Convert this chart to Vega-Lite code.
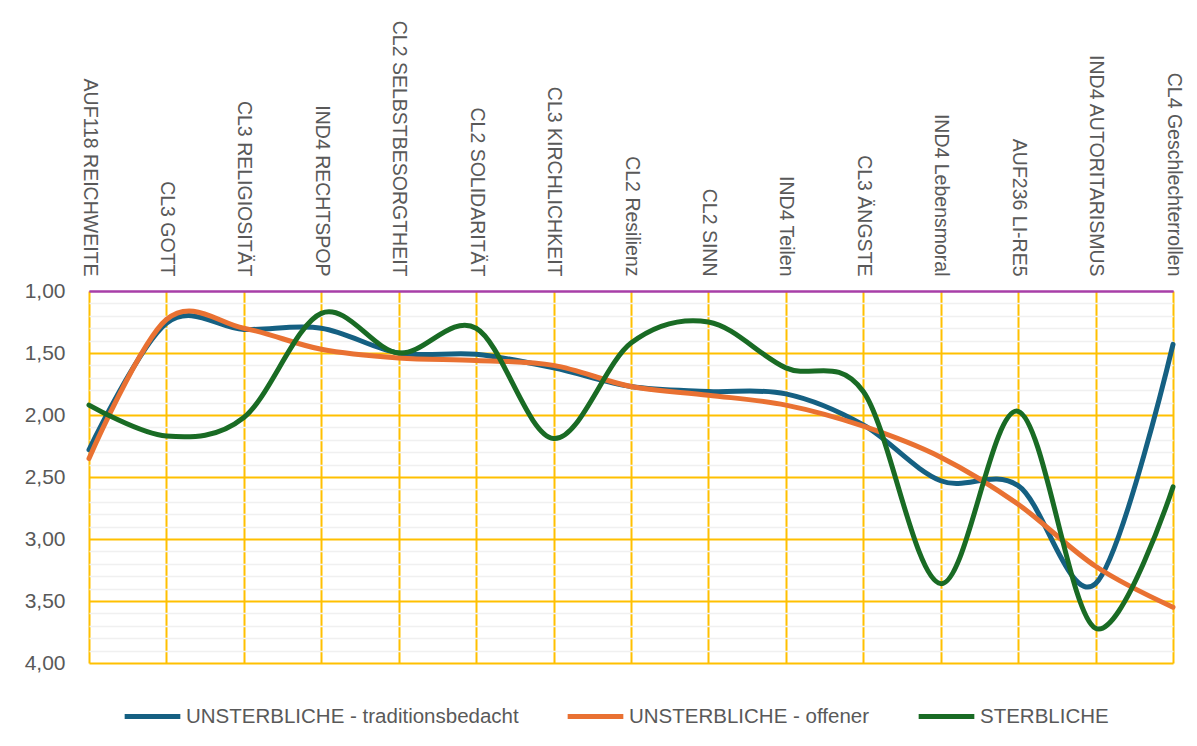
{
  "$schema": "https://vega.github.io/schema/vega-lite/v6.json",
  "width": 1084,
  "height": 372,
  "autosize": "none",
  "padding": {"left": 89, "top": 291, "right": 24, "bottom": 83},
  "background": "white",
  "config": {
    "view": {"stroke": null},
    "font": "Liberation Sans"
  },
  "data": {
    "values": [
      {"cat": "AUF118 REICHWEITE", "series": "UNSTERBLICHE - traditionsbedacht", "value": 2.28},
      {"cat": "AUF118 REICHWEITE", "series": "UNSTERBLICHE - offener", "value": 2.35},
      {"cat": "AUF118 REICHWEITE", "series": "STERBLICHE", "value": 1.92},
      {"cat": "CL3 GOTT", "series": "UNSTERBLICHE - traditionsbedacht", "value": 1.26},
      {"cat": "CL3 GOTT", "series": "UNSTERBLICHE - offener", "value": 1.23},
      {"cat": "CL3 GOTT", "series": "STERBLICHE", "value": 2.17},
      {"cat": "CL3 RELIGIOSITÄT", "series": "UNSTERBLICHE - traditionsbedacht", "value": 1.31},
      {"cat": "CL3 RELIGIOSITÄT", "series": "UNSTERBLICHE - offener", "value": 1.30},
      {"cat": "CL3 RELIGIOSITÄT", "series": "STERBLICHE", "value": 2.02},
      {"cat": "IND4 RECHTSPOP", "series": "UNSTERBLICHE - traditionsbedacht", "value": 1.30},
      {"cat": "IND4 RECHTSPOP", "series": "UNSTERBLICHE - offener", "value": 1.47},
      {"cat": "IND4 RECHTSPOP", "series": "STERBLICHE", "value": 1.18},
      {"cat": "CL2 SELBSTBESORGTHEIT", "series": "UNSTERBLICHE - traditionsbedacht", "value": 1.50},
      {"cat": "CL2 SELBSTBESORGTHEIT", "series": "UNSTERBLICHE - offener", "value": 1.54},
      {"cat": "CL2 SELBSTBESORGTHEIT", "series": "STERBLICHE", "value": 1.50},
      {"cat": "CL2 SOLIDARITÄT", "series": "UNSTERBLICHE - traditionsbedacht", "value": 1.51},
      {"cat": "CL2 SOLIDARITÄT", "series": "UNSTERBLICHE - offener", "value": 1.56},
      {"cat": "CL2 SOLIDARITÄT", "series": "STERBLICHE", "value": 1.30},
      {"cat": "CL3 KIRCHLICHKEIT", "series": "UNSTERBLICHE - traditionsbedacht", "value": 1.62},
      {"cat": "CL3 KIRCHLICHKEIT", "series": "UNSTERBLICHE - offener", "value": 1.60},
      {"cat": "CL3 KIRCHLICHKEIT", "series": "STERBLICHE", "value": 2.19},
      {"cat": "CL2 Resilienz", "series": "UNSTERBLICHE - traditionsbedacht", "value": 1.77},
      {"cat": "CL2 Resilienz", "series": "UNSTERBLICHE - offener", "value": 1.77},
      {"cat": "CL2 Resilienz", "series": "STERBLICHE", "value": 1.42},
      {"cat": "CL2 SINN", "series": "UNSTERBLICHE - traditionsbedacht", "value": 1.81},
      {"cat": "CL2 SINN", "series": "UNSTERBLICHE - offener", "value": 1.84},
      {"cat": "CL2 SINN", "series": "STERBLICHE", "value": 1.25},
      {"cat": "IND4 Teilen", "series": "UNSTERBLICHE - traditionsbedacht", "value": 1.83},
      {"cat": "IND4 Teilen", "series": "UNSTERBLICHE - offener", "value": 1.92},
      {"cat": "IND4 Teilen", "series": "STERBLICHE", "value": 1.62},
      {"cat": "CL3 ÄNGSTE", "series": "UNSTERBLICHE - traditionsbedacht", "value": 2.08},
      {"cat": "CL3 ÄNGSTE", "series": "UNSTERBLICHE - offener", "value": 2.09},
      {"cat": "CL3 ÄNGSTE", "series": "STERBLICHE", "value": 1.81},
      {"cat": "IND4 Lebensmoral", "series": "UNSTERBLICHE - traditionsbedacht", "value": 2.53},
      {"cat": "IND4 Lebensmoral", "series": "UNSTERBLICHE - offener", "value": 2.34},
      {"cat": "IND4 Lebensmoral", "series": "STERBLICHE", "value": 3.36},
      {"cat": "AUF236 LI-RE5", "series": "UNSTERBLICHE - traditionsbedacht", "value": 2.57},
      {"cat": "AUF236 LI-RE5", "series": "UNSTERBLICHE - offener", "value": 2.72},
      {"cat": "AUF236 LI-RE5", "series": "STERBLICHE", "value": 1.97},
      {"cat": "IND4 AUTORITARISMUS", "series": "UNSTERBLICHE - traditionsbedacht", "value": 3.36},
      {"cat": "IND4 AUTORITARISMUS", "series": "UNSTERBLICHE - offener", "value": 3.22},
      {"cat": "IND4 AUTORITARISMUS", "series": "STERBLICHE", "value": 3.72},
      {"cat": "CL4 Geschlechterrollen", "series": "UNSTERBLICHE - traditionsbedacht", "value": 1.43},
      {"cat": "CL4 Geschlechterrollen", "series": "UNSTERBLICHE - offener", "value": 3.55},
      {"cat": "CL4 Geschlechterrollen", "series": "STERBLICHE", "value": 2.58}
    ]
  },
  "encoding": {
    "x": {
      "field": "cat",
      "type": "nominal",
      "sort": null,
      "scale": {"type": "point", "padding": 0},
      "axis": {
        "orient": "top",
        "title": null,
        "labelAngle": 90,
        "labelAlign": "right",
        "labelBaseline": "middle",
        "labelPadding": 15,
        "labelFontSize": 19.5,
        "labelColor": "#595959",
        "labelFont": "Liberation Sans",
        "ticks": false,
        "grid": true,
        "gridColor": "#FFC000",
        "gridWidth": 2,
        "domain": true,
        "domainColor": "#A83FA8",
        "domainWidth": 2,
        "labelLimit": 400
      }
    }
  },
  "layer": [
    {
      "mark": {"type": "line", "opacity": 0},
      "encoding": {
        "y": {
          "field": "value",
          "type": "quantitative",
          "scale": {"domain": [1, 4], "reverse": true, "nice": false, "zero": false},
          "axis": {
            "orient": "right",
            "values": [1.1,1.2,1.3,1.4,1.6,1.7,1.8,1.9,2.1,2.2,2.3,2.4,2.6,2.7,2.8,2.9,3.1,3.2,3.3,3.4,3.6,3.7,3.8,3.9],
            "grid": true,
            "gridColor": "#F0F0F0",
            "gridWidth": 1.5,
            "labels": false,
            "ticks": false,
            "domain": false,
            "title": null
          }
        },
        "detail": {"field": "series"}
      }
    },
    {
      "mark": {"type": "line", "interpolate": "cardinal", "strokeWidth": 5, "strokeCap": "round"},
      "encoding": {
        "y": {
          "field": "value",
          "type": "quantitative",
          "scale": {"domain": [1, 4], "reverse": true, "nice": false, "zero": false},
          "axis": {
            "orient": "left",
            "values": [1, 1.5, 2, 2.5, 3, 3.5, 4],
            "labelExpr": "replace(format(datum.value, '.2f'), '.', ',')",
            "grid": true,
            "gridColor": {"condition": {"test": "datum.value == 1", "value": "#A83FA8"}, "value": "#FFC000"},
            "gridWidth": 2,
            "ticks": false,
            "domain": false,
            "title": null,
            "labelFontSize": 21,
            "labelColor": "#595959",
            "labelFont": "Liberation Sans",
            "labelPadding": 24
          }
        },
        "color": {
          "field": "series",
          "type": "nominal",
          "scale": {
            "domain": ["UNSTERBLICHE - traditionsbedacht", "UNSTERBLICHE - offener", "STERBLICHE"],
            "range": ["#156082", "#E97132", "#196B24"]
          },
          "legend": {
            "orient": "none",
            "legendX": 33,
            "legendY": 395,
            "direction": "horizontal",
            "title": null,
            "symbolType": "stroke",
            "symbolSize": 3100,
            "symbolStrokeWidth": 5,
            "labelFontSize": 20.5,
            "labelColor": "#595959",
            "labelFont": "Liberation Sans",
            "labelOffset": 3,
            "columnPadding": 38,
            "labelLimit": 500
          }
        }
      }
    }
  ],
  "resolve": {"axis": {"y": "independent"}}
}
